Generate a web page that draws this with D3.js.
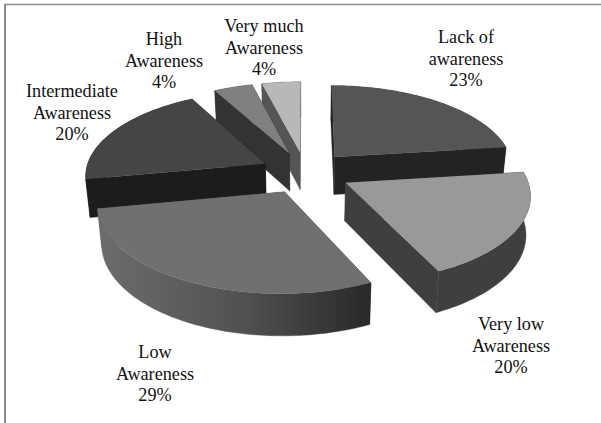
<!DOCTYPE html>
<html>
<head>
<meta charset="utf-8">
<script src="https://cdn.jsdelivr.net/npm/d3@7/dist/d3.min.js"></script>
<style>html,body{margin:0;padding:0;background:#fff}svg{display:block}</style>
</head>
<body>
<script>
const categories = ["Lack of awareness","Very low Awareness","Low Awareness","Intermediate Awareness","High Awareness","Very much Awareness"];
const values = [23,20,29,20,4,4];
const labelLines = [["Lack of","awareness","23%"],["Very low","Awareness","20%"],["Low","Awareness","29%"],["Intermediate","Awareness","20%"],["High","Awareness","4%"],["Very much","Awareness","4%"]];

const W=601,H=423;
const svg=d3.select("body").append("svg").attr("width",W).attr("height",H).style("background","#fff");

// layout & style
const cx=305.5,cy=172.5,rx=180,ry=84,persp=0.125,explode=0.25,depth=38,bottomScale=0.98;
const topFill=["#555555","#999999","#707070","#454545","#808080","#b8b8b8"];
const wallFill=["#232323","#3f3f3f","url(#lowWall)","#1c1c1c","#333333","#555555"];
const labelPos=[[466,43],[511,330],[155,358],[72,97],[164,45],[264,32]];
const drawOrder=[5,4,0,3,1,2];

const defs=svg.append("defs");
const g=defs.append("linearGradient").attr("id","lowWall").attr("gradientUnits","userSpaceOnUse")
  .attr("x1",100).attr("x2",368).attr("y1",0).attr("y2",0);
[[0,"#6c6c6c"],[0.55,"#505050"],[0.8,"#3a3a3a"],[1,"#2a2a2a"]].forEach(s=>g.append("stop").attr("offset",s[0]).attr("stop-color",s[1]));

// frame
svg.append("line").attr("x1",5).attr("x2",5).attr("y1",4).attr("y2",H).attr("stroke","#8c8c8c").attr("stroke-width",2);
svg.append("line").attr("x1",4).attr("x2",W).attr("y1",4.5).attr("y2",4.5).attr("stroke","#8c8c8c").attr("stroke-width",1.5);

const arcs=d3.pie().sort(null).startAngle(0).endAngle(2*Math.PI)(values);
const line=d3.line().x(d=>d[0]).y(d=>d[1]);
const poly=p=>line(p)+"Z";

function project(u,v){
  const s=1/(1+persp*v);
  return [cx+rx*u*s, cy-ry*v*s, s];
}
const lower=p=>[cx+(p[0]-cx)*bottomScale, p[1]+depth*(1+0.6*(p[2]-1))];

const pts=arcs.map(a=>{
  const mid=(a.startAngle+a.endAngle)/2;
  const ex=explode*Math.sin(mid), ey=explode*Math.cos(mid);
  const n=Math.max(4,Math.ceil((a.endAngle-a.startAngle)/0.02));
  const rim=d3.range(n+1).map(i=>{
    const t=a.startAngle+(a.endAngle-a.startAngle)*i/n;
    return project(ex+Math.sin(t),ey+Math.cos(t));
  });
  return {apex:project(ex,ey),rim};
});

const layer=svg.append("g");
drawOrder.forEach(i=>{
  const {apex,rim}=pts[i];
  const gi=layer.append("g").attr("class","slice").attr("data-name",categories[i]);
  const first=rim[0],last=rim[rim.length-1];
  const walls=[
    [apex,first,lower(first),lower(apex)],
    [apex,last,lower(last),lower(apex)],
    rim.concat(rim.slice().reverse().map(lower))
  ];
  gi.selectAll("path.wall").data(walls).join("path").attr("class","wall")
    .attr("d",poly).attr("fill",wallFill[i]).attr("stroke",wallFill[i]).attr("stroke-width",0.4);
  gi.append("path").attr("class","top").attr("d",poly([apex].concat(rim))).attr("fill",topFill[i]);
});

const fs=18.2,lh=21.6;
labelLines.forEach((lines,i)=>{
  const t=svg.append("text").attr("font-family","'Liberation Serif','Times New Roman',serif")
    .attr("font-size",fs).attr("fill","#111").attr("text-anchor","middle");
  lines.forEach((l,j)=>t.append("tspan").attr("x",labelPos[i][0]).attr("y",labelPos[i][1]+j*lh).text(l));
});
</script>
</body>
</html>
